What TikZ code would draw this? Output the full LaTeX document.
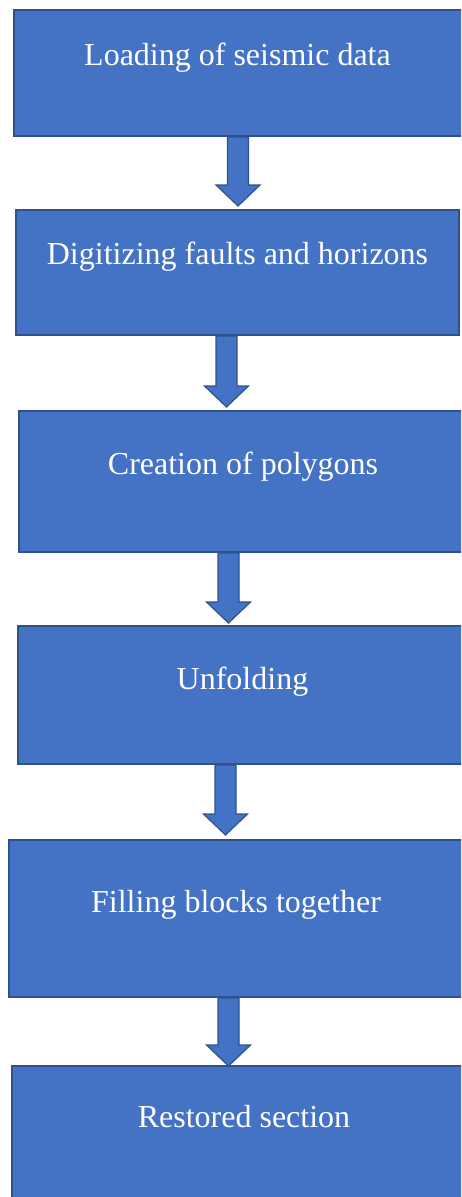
\documentclass[tikz,border=0pt]{standalone}
\usepackage{fontspec}
\setmainfont{Liberation Serif}
\usetikzlibrary{calc}
\definecolor{boxfill}{HTML}{4472C4}
\definecolor{boxline}{HTML}{2F528F}
\tikzset{
  stepbox/.style={draw=boxline, fill=boxfill, line width=1.4pt, rectangle, anchor=north west, inner sep=0pt, outer sep=0pt},
  boxtext/.style={text=white, font=\fontsize{32}{38}\selectfont, anchor=base, inner sep=0pt},
  blockarrow/.style={draw=boxline, fill=boxfill, line width=1.2pt, line join=miter}
}
\newcommand\flowarrow[4]{%
  \draw[blockarrow] let \p1=(#1.south), \p2=(#2.north) in
    (#3pt-10.5pt,\y1-1pt) -- (#3pt+10.5pt,\y1-1pt) -- (#3pt+10.5pt,\y2+#4pt+21pt)
    -- (#3pt+22pt,\y2+#4pt+21pt) -- (#3pt,\y2+#4pt) -- (#3pt-22pt,\y2+#4pt+21pt)
    -- (#3pt-10.5pt,\y2+#4pt+21pt) -- cycle;}
\begin{document}
\begin{tikzpicture}
\useasboundingbox (0pt,0pt) rectangle (461pt,-1197pt);
\clip (0pt,0pt) rectangle (461pt,-1197pt);
\node[stepbox, minimum width=460pt, minimum height=126pt] (b1) at (14pt,-10pt) {};
\node[stepbox, minimum width=443pt, minimum height=125pt] (b2) at (16pt,-210pt) {};
\node[stepbox, minimum width=448pt, minimum height=141pt] (b3) at (19pt,-411pt) {};
\node[stepbox, minimum width=449pt, minimum height=138pt] (b4) at (18pt,-626pt) {};
\node[stepbox, minimum width=454pt, minimum height=157pt] (b5) at (9pt,-840pt) {};
\node[stepbox, minimum width=464pt, minimum height=145pt] (b6) at (12pt,-1066pt) {};
\node[boxtext] (t1) at (237.5pt,-65pt) {Loading of seismic data};
\node[boxtext] (t2) at (237.5pt,-264pt) {Digitizing faults and horizons};
\node[boxtext] (t3) at (243pt,-474pt) {Creation of polygons};
\node[boxtext] (t4) at (242.5pt,-689pt) {Unfolding};
\node[boxtext] (t5) at (236pt,-912pt) {Filling blocks together};
\node[boxtext] (t6) at (244pt,-1127pt) {Restored section};
\flowarrow{b1}{b2}{238}{4}
\flowarrow{b2}{b3}{226.5}{4}
\flowarrow{b3}{b4}{228.5}{3}
\flowarrow{b4}{b5}{225.5}{5}
\flowarrow{b5}{b6}{228.5}{0}
\end{tikzpicture}
\end{document}
